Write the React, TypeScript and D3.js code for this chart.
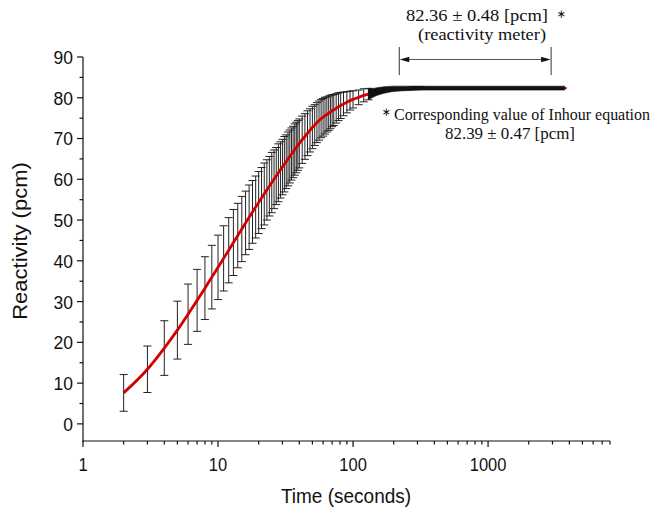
import React from "react";
import * as d3 from "d3";

// ---- data ----
const times = [
  2, 3, 4, 5, 6, 7, 8, 9, 10, 11, 12, 13, 14, 15, 16, 17, 18, 19, 20, 21, 22, 23, 24, 25,
  26, 27, 28, 29, 30, 31, 32, 33, 34, 35, 36, 37, 38, 39, 40, 42, 44, 46, 48, 50, 52, 54,
  56, 58, 60, 62, 64, 66, 68, 70, 72, 75, 78, 81, 85, 90, 95, 100, 110, 120, 130, 140, 150,
  170, 200, 250, 300, 350, 400, 500, 600, 700, 800, 1000, 1200, 1500, 1800, 2200, 2600, 3000,
  3400, 3700,
];
const reactivity = [
  7.6, 13.4, 18.6, 23.0, 26.9, 30.3, 33.3, 36.0, 38.4, 40.6, 42.6, 44.5, 46.2, 47.8, 49.3,
  50.7, 52.0, 53.2, 54.3, 55.4, 56.4, 57.4, 58.3, 59.2, 60.0, 60.8, 61.6, 62.3, 63.0, 63.7,
  64.3, 65.0, 65.6, 66.2, 66.7, 67.3, 67.8, 68.3, 68.8, 69.7, 70.5, 71.3, 72.0, 72.7, 73.3,
  73.9, 74.4, 74.9, 75.2, 75.6, 75.9, 76.2, 76.5, 76.8, 77.0, 77.4, 77.8, 78.1, 78.5, 78.9,
  79.3, 79.6, 80.1, 80.6, 80.9, 81.2, 81.5, 81.9, 82.2, 82.3, 82.36, 82.36, 82.36, 82.36,
  82.36, 82.36, 82.36, 82.36, 82.36, 82.36, 82.36, 82.36, 82.36, 82.36, 82.36, 82.36,
];
const errors = [
  4.5, 5.7, 6.7, 7.1, 7.4, 7.6, 7.7, 7.8, 7.9, 8.0, 8.0, 8.1, 7.9, 8.0, 7.8, 7.9, 7.7, 7.6,
  7.6, 7.5, 7.6, 7.4, 7.3, 7.4, 7.2, 7.0, 7.1, 6.9, 6.8, 6.8, 6.6, 6.6, 6.5, 6.4, 6.3, 6.3,
  6.2, 6.1, 6.0, 5.8, 5.6, 5.5, 5.3, 5.2, 5.0, 4.9, 4.8, 4.7, 4.6, 4.5, 4.3, 4.2, 4.1, 3.9,
  3.8, 3.6, 3.4, 3.2, 2.9, 2.6, 2.3, 2.1, 1.8, 1.6, 1.4, 1.1, 0.95, 0.8, 0.65, 0.55, 0.5,
  0.48, 0.48, 0.48, 0.48, 0.48, 0.48, 0.48, 0.48, 0.48, 0.48, 0.48, 0.48, 0.48, 0.48, 0.48,
];
const yTicks = [0, 10, 20, 30, 40, 50, 60, 70, 80, 90];
const yMinorTicks = [5, 15, 25, 35, 45, 55, 65, 75, 85];
const xTicks = [1, 10, 100, 1000];
const xTickLabels = ["1", "10", "100", "1000"];
const bracketTimes = [220, 2930];
const annotationTop = ["82.36 \u00B1 0.48 [pcm] ", "(reactivity meter)"];
const annotationSide = ["Corresponding value of Inhour equation", "82.39 \u00B1 0.47 [pcm]"];
const star = "\u2217";
const denseFrom = 140; // above this time the error bars merge into a solid band

const W = 657;
const H = 511;
const SY = 1.1; // the reference is slightly stretched vertically

export default function App() {
  const x = d3.scaleLog().domain([1, 8000]).range([83, 610]);
  const y = d3.scaleLinear().domain([-4.2, 90]).range([441, 57]);
  const pts = times.map((t, i) => ({ t, v: reactivity[i], e: errors[i] }));
  const line = d3
    .line<any>()
    .x((d) => x(d.t))
    .y((d) => y(d.v))
    .curve(d3.curveMonotoneX);
  const band = d3
    .area<any>()
    .x((d) => x(d.t))
    .y0((d) => y(d.v - d.e))
    .y1((d) => y(d.v + d.e))
    .curve(d3.curveMonotoneX);
  const densePts = pts.filter((d) => d.t >= denseFrom - 10);
  const barPts = pts.filter((d) => d.t < denseFrom);

  const xMinor: number[] = [];
  [1, 10, 100, 1000].forEach((dec) => {
    for (let k = 2; k <= 9; k++) {
      const v = dec * k;
      if (v <= 8000) xMinor.push(v);
    }
  });

  const sans = "'Liberation Sans', Arial, sans-serif";
  const serif = "'Liberation Serif', 'Times New Roman', serif";
  const starFont = "'DejaVu Sans', sans-serif";
  const axisY = y.range()[0];
  const axisX = x.range()[0];
  const bx0 = x(bracketTimes[0]);
  const bx1 = x(bracketTimes[1]);
  const by = 59.5;
  const last = pts[pts.length - 1];

  return (
    <svg
      width={W}
      height={H}
      style={{ position: "absolute", left: 0, top: 0, background: "#fff" }}
    >
      <rect x={0} y={0} width={W} height={H} fill="#fff" />
      {/* error bars */}
      <g stroke="#222" strokeWidth={1} fill="none">
        {barPts.map((d, i) => (
          <g key={i}>
            <line x1={x(d.t)} x2={x(d.t)} y1={y(d.v - d.e)} y2={y(d.v + d.e)} />
            <line x1={x(d.t) - 4} x2={x(d.t) + 4} y1={y(d.v - d.e)} y2={y(d.v - d.e)} />
            <line x1={x(d.t) - 4} x2={x(d.t) + 4} y1={y(d.v + d.e)} y2={y(d.v + d.e)} />
          </g>
        ))}
      </g>
      {/* red curve */}
      <path d={line(pts) || ""} fill="none" stroke="#d40000" strokeWidth={2.8} />
      {/* dense error bars band */}
      <path d={band(densePts) || ""} fill="#111" stroke="#111" strokeWidth={0.6} />
      <line
        x1={x(last.t)}
        x2={x(last.t) + 2}
        y1={y(last.v)}
        y2={y(last.v)}
        stroke="#d40000"
        strokeWidth={2}
      />

      {/* axes */}
      <g stroke="#111" strokeWidth={1.2} fill="none">
        <line x1={axisX} x2={axisX} y1={y(90)} y2={axisY + 1} />
        <line x1={axisX - 0.5} x2={x.range()[1]} y1={axisY} y2={axisY} />
        {yTicks.map((t) => (
          <line key={"yt" + t} x1={axisX - 6} x2={axisX} y1={y(t)} y2={y(t)} />
        ))}
        {yMinorTicks.map((t) => (
          <line key={"ym" + t} x1={axisX - 3.5} x2={axisX} y1={y(t)} y2={y(t)} />
        ))}
        {xTicks.map((t) => (
          <line key={"xt" + t} x1={x(t)} x2={x(t)} y1={axisY} y2={axisY + 6} />
        ))}
        {xMinor.map((t) => (
          <line key={"xm" + t} x1={x(t)} x2={x(t)} y1={axisY} y2={axisY + 3.5} />
        ))}
      </g>
      <g fontFamily={sans} fill="#111">
        {yTicks.map((t) => (
          <text
            key={"yl" + t}
            transform={`translate(73,${y(t)}) scale(1,${SY})`}
            textAnchor="end"
            dy="0.36em"
            fontSize={17.5}
          >
            {t}
          </text>
        ))}
        {xTicks.map((t, i) => (
          <text
            key={"xl" + t}
            transform={`translate(${x(t)},471) scale(1,${SY})`}
            textAnchor="middle"
            fontSize={16.5}
          >
            {xTickLabels[i]}
          </text>
        ))}
        <text
          transform={`translate(346,503) scale(1,${SY})`}
          textAnchor="middle"
          fontSize={19}
        >
          Time (seconds)
        </text>
        <text
          transform={`translate(27,${(y(90) + axisY) / 2 - 8}) scale(1,${SY}) rotate(-90)`}
          textAnchor="middle"
          fontSize={20}
        >
          Reactivity (pcm)
        </text>
      </g>

      {/* annotation bracket */}
      <g stroke="#333" strokeWidth={1}>
        <line x1={bx0} x2={bx0} y1={47} y2={75} />
        <line x1={bx1} x2={bx1} y1={47} y2={75} />
        <line x1={bx0 + 6} x2={bx1 - 6} y1={by} y2={by} stroke="#555" />
      </g>
      <path d={`M${bx0 + 0.5},${by} L${bx0 + 10},${by - 2.8} L${bx0 + 10},${by + 2.8} Z`} fill="#111" />
      <path d={`M${bx1 - 0.5},${by} L${bx1 - 10},${by - 2.8} L${bx1 - 10},${by + 2.8} Z`} fill="#111" />

      <g fontFamily={serif} fill="#111">
        <text
          transform={`translate(477,21) scale(1,${SY})`}
          textAnchor="middle"
          fontSize={16}
          textLength={142}
          lengthAdjust="spacingAndGlyphs"
        >
          {annotationTop[0]}
        </text>
        <text
          transform={`translate(561,18) scale(1,${SY})`}
          textAnchor="middle"
          fontSize={11}
          fontFamily={starFont}
        >
          {star}
        </text>
        <text
          transform={`translate(482,40) scale(1,${SY})`}
          textAnchor="middle"
          fontSize={16}
          textLength={128}
          lengthAdjust="spacingAndGlyphs"
        >
          {annotationTop[1]}
        </text>
        <text
          transform={`translate(386,116) scale(1,${SY})`}
          textAnchor="middle"
          fontSize={11}
          fontFamily={starFont}
        >
          {star}
        </text>
        <text
          transform={`translate(522,120) scale(1,${SY})`}
          textAnchor="middle"
          fontSize={15.5}
          textLength={256}
          lengthAdjust="spacingAndGlyphs"
        >
          {annotationSide[0]}
        </text>
        <text
          transform={`translate(510,139) scale(1,${SY})`}
          textAnchor="middle"
          fontSize={16}
          textLength={130}
          lengthAdjust="spacingAndGlyphs"
        >
          {annotationSide[1]}
        </text>
      </g>
    </svg>
  );
}
